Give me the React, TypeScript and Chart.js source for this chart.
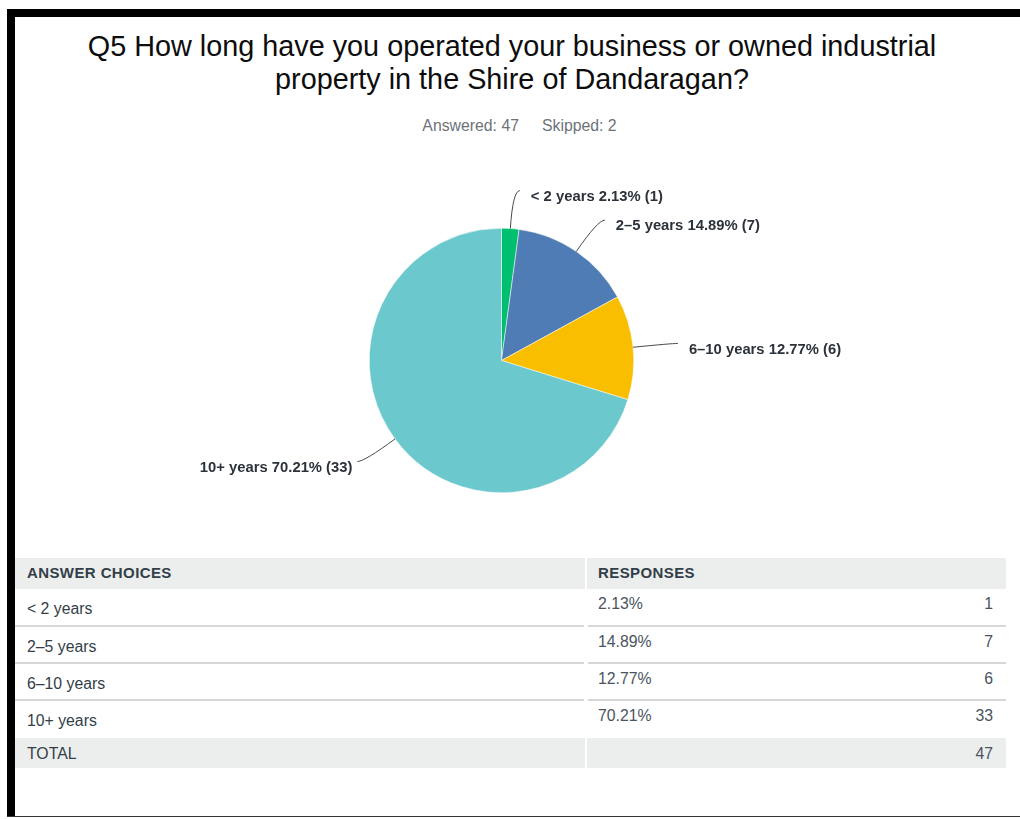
import React, { useEffect, useRef } from "react";
import { Chart, registerables } from "chart.js";

Chart.register(...registerables);

const titleLines = [
  "Q5 How long have you operated your business or owned industrial",
  "property in the Shire of Dandaragan?",
];
const answered = 47;
const skipped = 2;
const categories = ["< 2 years", "2–5 years", "6–10 years", "10+ years"];
const percents = [2.13, 14.89, 12.77, 70.21];
const counts = [1, 7, 6, 33];
const sliceColors = ["#00BF6F", "#507CB6", "#F9BE00", "#6BC8CD"];
const totalCount = 47;

const TEXT_DARK = "#333e48";
const TABLE_GRAY = "#eceeee";
const FONT = '"Liberation Sans", Arial, sans-serif';

const leaderPlugin = {
  id: "leaderLabels",
  afterDatasetsDraw(chart: any) {
    const ctx = chart.ctx;
    const meta = chart.getDatasetMeta(0);
    ctx.save();
    meta.data.forEach((arc: any, i: number) => {
      const p = arc.getProps(["x", "y", "startAngle", "endAngle", "outerRadius"], true);
      const mid = (p.startAngle + p.endAngle) / 2;
      const cos = Math.cos(mid);
      const sin = Math.sin(mid);
      const sx = p.x + cos * p.outerRadius;
      const sy = p.y + sin * p.outerRadius;
      const ex0 = p.x + cos * (p.outerRadius + 38);
      const ey0 = p.y + sin * (p.outerRadius + 38);
      const right = cos >= 0;
      const ex = ex0 + (right ? 7 : -7);
      const ey = ey0;
      ctx.beginPath();
      ctx.strokeStyle = "#4a4a4a";
      ctx.lineWidth = 1;
      ctx.moveTo(sx, sy);
      ctx.quadraticCurveTo(ex0, ey0, ex, ey);
      ctx.stroke();
      const label = `${categories[i]} ${percents[i].toFixed(2)}% (${counts[i]})`;
      ctx.font = 'bold 14.8px "Liberation Sans", Arial, sans-serif';
      ctx.fillStyle = "#2b323a";
      ctx.textBaseline = "middle";
      ctx.textAlign = right ? "left" : "right";
      ctx.fillText(label, right ? ex + 11 : ex - 5, ey + 6);
    });
    ctx.restore();
  },
};

function PieChart() {
  const ref = useRef<HTMLCanvasElement | null>(null);
  useEffect(() => {
    if (!ref.current) return;
    const chart = new Chart(ref.current, {
      type: "pie",
      data: {
        labels: categories,
        datasets: [
          {
            data: counts,
            backgroundColor: sliceColors,
            borderColor: "#ffffff",
            borderWidth: 0.5,
          },
        ],
      },
      options: {
        animation: false,
        responsive: false,
        maintainAspectRatio: false,
        layout: { padding: { left: 369, right: 386, top: 228, bottom: 57 } },
        plugins: {
          legend: { display: false },
          tooltip: { enabled: false },
          title: { display: false },
        },
      },
      plugins: [leaderPlugin],
    });
    return () => chart.destroy();
  }, []);
  return (
    <canvas
      ref={ref}
      width={1020}
      height={550}
      style={{ position: "absolute", left: 0, top: 0, width: 1020, height: 550 }}
    />
  );
}

const rowTops = [589, 627, 664, 701];

export default function App() {
  const cell: React.CSSProperties = {
    position: "absolute",
    fontFamily: FONT,
    fontSize: 15.8,
    color: TEXT_DARK,
    whiteSpace: "nowrap",
    lineHeight: "18px",
  };
  const head: React.CSSProperties = { ...cell, fontWeight: "bold", fontSize: 15, letterSpacing: 0.4 };
  return (
    <div
      style={{
        position: "fixed",
        left: 0,
        top: 0,
        width: 1020,
        height: 819,
        background: "#ffffff",
        overflow: "hidden",
      }}
    >
      {/* frame */}
      <div style={{ position: "absolute", left: 7, top: 9, width: 1013, height: 8, background: "#000" }} />
      <div style={{ position: "absolute", left: 7, top: 9, width: 8, height: 808, background: "#000" }} />
      <div style={{ position: "absolute", left: 7, top: 816, width: 1013, height: 1, background: "#333" }} />

      {/* title */}
      <div
        style={{
          position: "absolute",
          left: 0,
          top: 30,
          width: 1024,
          textAlign: "center",
          fontFamily: FONT,
          fontSize: 28.8,
          lineHeight: "33px",
          color: "#0d0d0d",
          whiteSpace: "nowrap",
        }}
      >
        {titleLines[0]}
        <br />
        {titleLines[1]}
      </div>
      <div
        style={{
          position: "absolute",
          left: 0,
          top: 117,
          width: 1039,
          textAlign: "center",
          fontFamily: FONT,
          fontSize: 15.8,
          lineHeight: "18px",
          color: "#6d7278",
          whiteSpace: "nowrap",
        }}
      >
        <span>Answered: {answered}</span>
        <span style={{ marginLeft: 23 }}>Skipped: {skipped}</span>
      </div>

      <PieChart />

      {/* table */}
      <div style={{ position: "absolute", left: 15, top: 558, width: 991, height: 31, background: TABLE_GRAY }} />
      <div style={{ position: "absolute", left: 585, top: 558, width: 2, height: 31, background: "#fff" }} />
      <div style={{ ...head, left: 27, top: 564 }}>ANSWER CHOICES</div>
      <div style={{ ...head, left: 598, top: 564 }}>RESPONSES</div>

      {categories.map((c, i) => (
        <React.Fragment key={c}>
          <div style={{ ...cell, left: 27, top: rowTops[i] + 11 }}>{c}</div>
          <div style={{ ...cell, left: 598, top: rowTops[i] + 6, color: "#4a545e" }}>
            {percents[i].toFixed(2)}%
          </div>
          <div style={{ ...cell, right: 1020 - 993, top: rowTops[i] + 6, color: "#4a545e", textAlign: "right" }}>
            {counts[i]}
          </div>
          {i < categories.length - 1 && (
            <>
              <div style={{ position: "absolute", left: 15, top: rowTops[i + 1] - 2, width: 569, height: 2, background: "#d5d7d8" }} />
              <div style={{ position: "absolute", left: 588, top: rowTops[i + 1] - 2, width: 418, height: 2, background: "#d5d7d8" }} />
            </>
          )}
        </React.Fragment>
      ))}

      <div style={{ position: "absolute", left: 15, top: 738, width: 991, height: 30, background: TABLE_GRAY }} />
      <div style={{ position: "absolute", left: 585, top: 738, width: 2, height: 30, background: "#fff" }} />
      <div style={{ ...cell, left: 27, top: 745 }}>TOTAL</div>
      <div style={{ ...cell, right: 1020 - 993, top: 745, color: "#4a545e", textAlign: "right" }}>{totalCount}</div>
    </div>
  );
}
